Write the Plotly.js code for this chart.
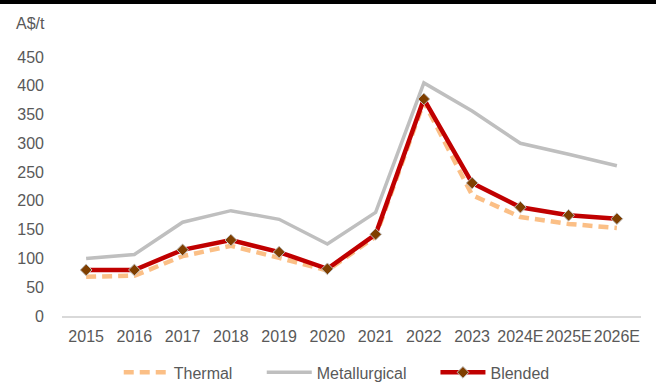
<!DOCTYPE html>
<html>
<head>
<meta charset="utf-8">
<script src="https://cdn.plot.ly/plotly-3.0.1.min.js"></script>
<style>
  html, body { margin: 0; padding: 0; background: #ffffff; }
  #wrap { position: relative; width: 656px; height: 383px; overflow: hidden; }
  #topbar { position: absolute; left: 0; top: 0; width: 656px; height: 4px; background: #000000; z-index: 5; }
  #chart { position: absolute; left: 0; top: 0; width: 656px; height: 383px; }
</style>
</head>
<body>
<div id="wrap">
  <div id="chart"></div>
  <div id="topbar"></div>
</div>
<script>
// Coal price series, A$ per tonne
const years = ['2015', '2016', '2017', '2018', '2019', '2020', '2021', '2022', '2023', '2024E', '2025E', '2026E'];
const thermal = [68, 70, 104, 122, 101, 79, 138, 372, 210, 172, 160, 153];
const metallurgical = [100, 107, 163, 183, 168, 125, 180, 405, 356, 300, 281, 261];
const blended = [80, 80, 115, 132, 111, 82, 142, 377, 231, 189, 175, 169];
const yTicks = [0, 50, 100, 150, 200, 250, 300, 350, 400, 450];

const textColor = '#595959';
const baseFont = { family: 'Liberation Sans, Arial, sans-serif', size: 16, color: textColor };

const traces = [
  {
    x: years, y: thermal, name: 'Thermal', type: 'scatter', mode: 'lines',
    line: { color: '#fbbf86', width: 4.5, dash: '10px,6px' },
    legend: 'legend'
  },
  {
    x: years, y: metallurgical, name: 'Metallurgical', type: 'scatter', mode: 'lines',
    line: { color: '#bfbfbf', width: 3.5 },
    legend: 'legend2'
  },
  {
    x: years, y: blended, name: 'Blended', type: 'scatter', mode: 'lines+markers',
    line: { color: '#c00000', width: 4.5 },
    marker: { symbol: 'diamond', size: 9, color: '#7f3f00', line: { color: '#bfbfbf', width: 1 } },
    legend: 'legend3'
  }
];

const legendBase = {
  orientation: 'h', yanchor: 'middle', y: -0.218, xanchor: 'left',
  font: baseFont, bgcolor: 'rgba(0,0,0,0)', itemwidth: 45
};

const layout = {
  width: 656, height: 383,
  margin: { l: 62, r: 15, t: 57, b: 67, autoexpand: false },
  paper_bgcolor: '#ffffff', plot_bgcolor: '#ffffff',
  font: baseFont,
  showlegend: true,
  xaxis: {
    type: 'category', range: [-0.5, 11.5],
    showgrid: false, zeroline: false,
    showline: true, linecolor: '#d9d9d9', linewidth: 1.5,
    ticks: '', tickangle: 0, tickfont: baseFont, ticklabelstandoff: 5
  },
  yaxis: {
    range: [0, 450], tickvals: yTicks, ticktext: yTicks.map(String),
    showgrid: false, zeroline: false, showline: false,
    ticks: '', tickfont: baseFont, ticklabelstandoff: 17
  },
  legend: Object.assign({}, legendBase, { x: 0.098 }),
  legend2: Object.assign({}, legendBase, { x: 0.345 }),
  legend3: Object.assign({}, legendBase, { x: 0.645 }),
  annotations: [{
    text: 'A$/t', xref: 'paper', yref: 'paper', x: -0.083, y: 1.131,
    xanchor: 'left', yanchor: 'middle', showarrow: false, font: baseFont
  }]
};

Plotly.newPlot('chart', traces, layout, { displayModeBar: false, staticPlot: true });
</script>
</body>
</html>
